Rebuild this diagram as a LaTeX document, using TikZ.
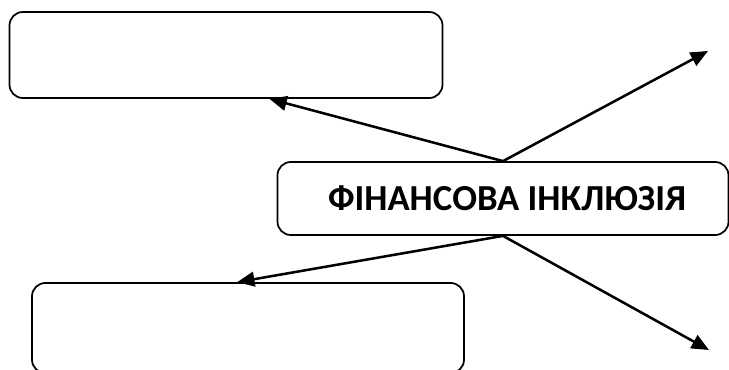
\documentclass[tikz,border=0pt]{standalone}
\usepackage{fontspec}
\setmainfont{Carlito}
\usetikzlibrary{arrows.meta,calc}
\begin{document}
\begin{tikzpicture}[x=0.75pt,y=-0.75pt,
  boxst/.style={draw,line width=1.3pt,rounded corners=10pt,inner sep=0pt},
  arr/.style={line width=1.9pt,-{Triangle[length=13pt,width=11pt]}}]
\useasboundingbox (0,0) rectangle (729,369);
\node[boxst,minimum width=433*0.75pt,minimum height=86*0.75pt] (top) at (226,55) {};
\node[boxst,minimum width=451*0.75pt,minimum height=73*0.75pt,font=\bfseries\fontsize{27.5pt}{32pt}\selectfont] (mid) at (503,198.5) {\hspace*{6pt}ФІНАНСОВА ІНКЛЮЗІЯ};
\node[boxst,minimum width=432*0.75pt,minimum height=90*0.75pt] (bot) at (248,328) {};
\coordinate (tr) at (708,51);
\coordinate (br) at (709,350);
\draw[arr] (mid.north) -- ($(top.south west)!0.6!(top.south east)$);
\draw[arr] (mid.north) -- (tr);
\draw[arr] (mid.south) -- ($(bot.north west)!0.475!(bot.north east)$);
\draw[arr] (mid.south) -- (br);
\end{tikzpicture}
\end{document}
